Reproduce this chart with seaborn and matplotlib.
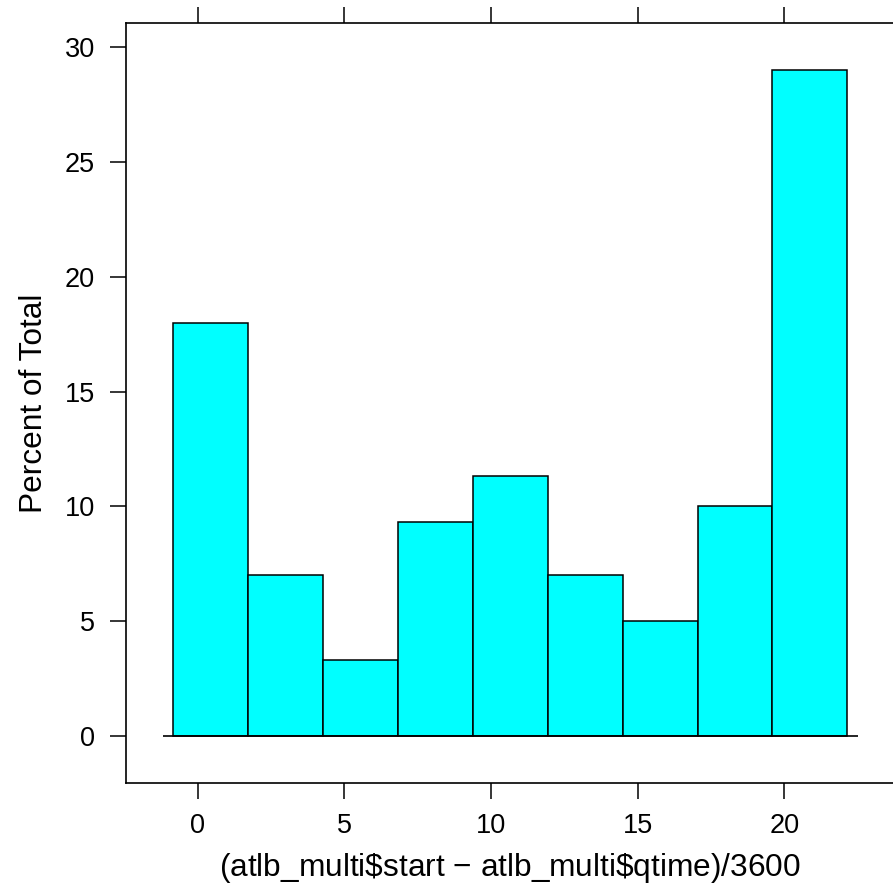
import numpy as np
import pandas as pd
import matplotlib
matplotlib.use('Agg')
import matplotlib.pyplot as plt
import seaborn as sns

# Datos del histograma (lattice): 9 clases de igual ancho
break_lo = -0.83
break_hi = 22.15
n_bins = 9
percent_total = [18.0, 7.0, 3.333, 9.333, 11.333, 7.0, 5.0, 10.0, 29.0]
x_ticks = [0, 5, 10, 15, 20]
y_ticks = [0, 5, 10, 15, 20, 25, 30]
x_label = r'(atlb_multi\$start $-$ atlb_multi\$qtime)/3600'
y_label = 'Percent of Total'

edges = np.linspace(break_lo, break_hi, n_bins + 1)
centers = (edges[:-1] + edges[1:]) / 2
df = pd.DataFrame({'x': centers, 'pct': percent_total})

sns.set_style('white')
plt.rcParams['font.family'] = ['Liberation Sans', 'DejaVu Sans']
plt.rcParams['text.color'] = 'black'
plt.rcParams['axes.labelcolor'] = 'black'
plt.rcParams['mathtext.fontset'] = 'custom'
plt.rcParams['mathtext.rm'] = 'Liberation Sans'

fig = plt.figure(figsize=(8.93, 8.91), dpi=100)
ax = fig.add_axes([126 / 893, 108 / 891, 768.6 / 893, 760 / 891])

sns.histplot(data=df, x='x', weights='pct', bins=n_bins, binrange=(break_lo, break_hi),
             color='#00FFFF', edgecolor='black', linewidth=1.1, alpha=1, ax=ax)

# Relleno de ejes al estilo lattice (7%)
rng = break_hi - break_lo
ax.set_xlim(break_lo - 0.07 * rng, break_hi + 0.07 * rng)
ymax = max(percent_total)
ax.set_ylim(-0.07 * ymax, ymax * 1.07)

# Línea base en y=0
ax.hlines(0, break_lo - 0.015 * rng, break_hi + 0.015 * rng, color='black', linewidth=1.2)

ax.set_xticks(x_ticks)
ax.set_yticks(y_ticks)
ax.tick_params(axis='both', direction='out', length=11.5, width=1.1, labelsize=19.5,
               color='black', labelcolor='black', pad=11)
ax.tick_params(axis='x', top=True, labeltop=False, bottom=True, pad=10)
ax.tick_params(axis='y', left=True, right=False)

for s in ax.spines.values():
    s.set_color('black')
    s.set_linewidth(1.2)

ax.set_xlabel(x_label, fontsize=22.8, labelpad=9)
ax.set_ylabel(y_label, fontsize=22.8, labelpad=11)

fig.savefig('out.png', dpi=100)
